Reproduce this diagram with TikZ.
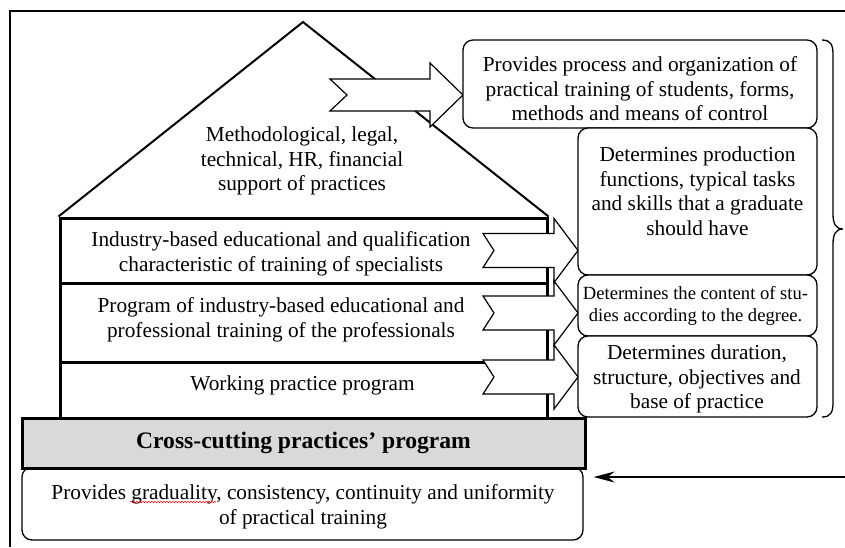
\documentclass[tikz,border=0pt]{standalone}
\usepackage{fontspec}
\setmainfont{Liberation Serif}
\usetikzlibrary{arrows.meta,decorations.pathmorphing}
\definecolor{barfill}{RGB}{217,217,217}
\begin{document}
\begin{tikzpicture}[x=1pt,y=-1pt,
  txt/.style={align=center, inner sep=0pt, font=\fontsize{21.3}{24.5}\selectfont},
  smalltxt/.style={align=center, inner sep=0pt, font=\fontsize{18.6}{22}\selectfont},
  boldtxt/.style={inner sep=0pt, font=\fontsize{23.6}{26}\selectfont\bfseries},
  frame/.style={line width=2pt},
  roofline/.style={line width=2pt, line join=miter},
  tier/.style={draw, line width=3pt, minimum width=487pt, inner sep=0pt},
  crossbar/.style={draw, line width=3pt, fill=barfill, minimum width=563pt, minimum height=50pt, inner sep=0pt},
  rbox/.style={draw, line width=1.3pt, rounded corners=10pt, fill=white, inner sep=0pt},
  blockarrow/.style={draw, line width=1.2pt, fill=white, line join=miter},
  link/.style={line width=1.3pt, -{Stealth[length=21pt,width=11pt,inset=7pt]}},
  bracepath/.style={line width=1.3pt},
  spell/.style={red, line width=0.5pt, decorate, decoration={snake, amplitude=0.7pt, segment length=3pt}}
]
\useasboundingbox (0,0) rectangle (845,547);

% outer frame (left and top edges)
\draw[frame] (9.5,547) -- (9.5,10.5) -- (845,10.5);

% base: description box and the cross-cutting bar above it
\node[rbox, minimum width=561pt, minimum height=73pt] (base) at (302.5,503.5) {};
\node[crossbar] (cross) at (303.5,443) {};

% house: roof and three tiers
\coordinate (apex) at (303,22);
\node[tier, minimum height=65pt] (r1) at (303.5,250.5) {};
\node[tier, minimum height=79pt] (r2) at (303.5,322.5) {};
\node[tier, minimum height=56pt] (r3) at (303.5,390) {};
\draw[roofline] (r1.north west) -- (apex) -- (r1.north east);

% notched block arrows
\draw[blockarrow] (330,79) -- (430,79) -- (430,63) -- (463,95) -- (430,127)
  -- (430,111) -- (330,111) -- (347,95) -- cycle;
\foreach \c in {250.5,313,377}{
  \draw[blockarrow] (483,\c-17) -- (554,\c-17) -- (554,\c-32) -- (578,\c)
    -- (554,\c+32) -- (554,\c+17) -- (483,\c+17) -- (494,\c) -- cycle;
}

% right-hand boxes
\node[rbox, minimum width=354pt, minimum height=88pt] (bA) at (640,84) {};
\node[rbox, minimum width=239pt, minimum height=147pt] (bB) at (697.5,201.5) {};
\node[rbox, minimum width=239pt, minimum height=61pt] (bC) at (697.5,305.5) {};
\node[rbox, minimum width=239pt, minimum height=81pt] (bD) at (697.5,376.5) {};

% curly brace grouping the right-hand boxes
\draw[bracepath] (822,40) .. controls (831,40) and (833,45) .. (833,55)
  -- (833,214) .. controls (833,224) and (836,229) .. (843,229)
  .. controls (836,229) and (833,234) .. (833,244)
  -- (833,402) .. controls (833,412) and (831,417) .. (822,417);

% feedback arrow into the base box
\coordinate (feed) at (845,477);
\draw[link, shorten >=10pt] (feed) -- (feed -| base.east);

% texts
\node[txt] (troof) at (302,161) {Methodological, legal,\\technical, HR, financial\\support of practices};
\node[txt] (t1) at (281,254) {Industry-based educational and qualification\\characteristic of training of specialists};
\node[txt] (t2) at (281,320) {Program of industry-based educational and\\professional training of the professionals};
\node[txt] (t3) at (302.5,385) {Working practice program};
\node[boldtxt] (tcross) at (cross) {Cross-cutting practices’ program};
\node[txt] (tbase) at (303,507) {Provides graduality, consistency, continuity and uniformity\\of practical training};
\node[txt] (tA) at (640,89) {Provides process and organization of\\practical training of students, forms,\\methods and means of control};
\node[txt] (tB) at (697.5,191) {Determines production\\functions, typical tasks\\and skills that a graduate\\should have};
\node[smalltxt] (tC) at (695.5,305.5) {Determines the content of stu-\\dies according to the degree.};
\node[txt] (tD) at (697,379) {Determines duration,\\structure, objectives and\\base of practice};

% spell-check squiggle under one word
\draw[spell] (130,502) -- (216,502);
\end{tikzpicture}
\end{document}
